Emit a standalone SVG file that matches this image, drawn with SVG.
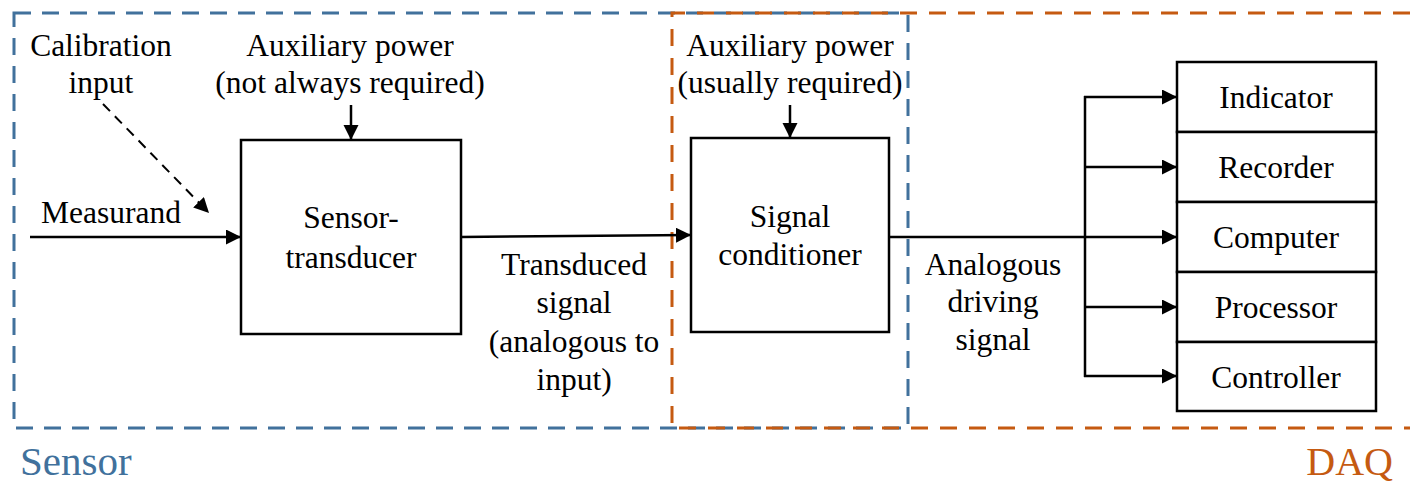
<svg xmlns="http://www.w3.org/2000/svg" width="1410" height="483" viewBox="0 0 1410 483">
<style>
text{font-family:"Liberation Serif","Times New Roman",serif;font-size:31.5px;fill:#000;text-anchor:middle}
.box{fill:#fff;stroke:#000;stroke-width:2.5}
.ln{fill:none;stroke:#000;stroke-width:2.5}
.dash{fill:none;stroke:#000;stroke-width:2;stroke-dasharray:10 7}
.sensor{fill:none;stroke:#41719C;stroke-width:3;stroke-dasharray:17 11}
.daq{fill:none;stroke:#C55A11;stroke-width:3;stroke-dasharray:17 12}
</style>
<defs>
<marker id="ah" markerUnits="userSpaceOnUse" markerWidth="16" markerHeight="16" refX="15" refY="7.5" orient="auto">
<path d="M0,0 L15,7.5 L0,15 z" fill="#000"/>
</marker>
</defs>
<rect width="1410" height="483" fill="#fff"/>
<g font-family="Liberation Serif, Times New Roman, serif">
<g id="sensor-region">
<rect class="sensor" x="14" y="13" width="894" height="415"/>
<text x="20" y="475" style="font-size:41px;fill:#41719C;text-anchor:start">Sensor</text>
</g>
<g id="daq-region">
<path class="daq" d="M1410,13 H672 V428 H1410"/>
<text x="1393" y="475" style="font-size:40px;fill:#C55A11;text-anchor:end">DAQ</text>
</g>
<g id="connectors">
<line class="ln" x1="30" y1="237" x2="241" y2="237" marker-end="url(#ah)"/>
<line class="dash" x1="103" y1="104" x2="209" y2="213" marker-end="url(#ah)"/>
<line class="ln" x1="351" y1="105" x2="351" y2="140" marker-end="url(#ah)"/>
<line class="ln" x1="461" y1="237" x2="691" y2="235" marker-end="url(#ah)"/>
<line class="ln" x1="790" y1="105" x2="790" y2="138" marker-end="url(#ah)"/>
<line class="ln" x1="889" y1="237" x2="1177" y2="237" marker-end="url(#ah)"/>
<line class="ln" x1="1085" y1="96" x2="1085" y2="377"/>
<line class="ln" x1="1084" y1="97" x2="1177" y2="97" marker-end="url(#ah)"/>
<line class="ln" x1="1084" y1="167" x2="1177" y2="167" marker-end="url(#ah)"/>
<line class="ln" x1="1084" y1="307" x2="1177" y2="307" marker-end="url(#ah)"/>
<line class="ln" x1="1084" y1="376" x2="1177" y2="376" marker-end="url(#ah)"/>
</g>
<g id="calibration-input">
<text x="101" y="56">Calibration</text>
<text x="101" y="93">input</text>
</g>
<g id="measurand">
<text x="111" y="223">Measurand</text>
</g>
<g id="aux-power-sensor">
<text x="350" y="56">Auxiliary power</text>
<text x="350" y="93">(not always required)</text>
</g>
<g id="sensor-transducer">
<rect class="box" x="241" y="140" width="220" height="194"/>
<text x="351" y="228">Sensor-</text>
<text x="351" y="268">transducer</text>
</g>
<g id="transduced-signal">
<text x="574" y="275">Transduced</text>
<text x="574" y="313">signal</text>
<text x="574" y="352">(analogous to</text>
<text x="574" y="390">input)</text>
</g>
<g id="aux-power-conditioner">
<text x="790" y="56">Auxiliary power</text>
<text x="790" y="93">(usually required)</text>
</g>
<g id="signal-conditioner">
<rect class="box" x="691" y="138" width="198" height="194"/>
<text x="790" y="227">Signal</text>
<text x="790" y="265">conditioner</text>
</g>
<g id="analogous-driving-signal">
<text x="993" y="275">Analogous</text>
<text x="993" y="312">driving</text>
<text x="993" y="350">signal</text>
</g>
<g id="indicator">
<rect class="box" x="1177" y="62" width="199" height="70"/>
<text x="1276" y="108">Indicator</text>
</g>
<g id="recorder">
<rect class="box" x="1177" y="132" width="199" height="70"/>
<text x="1276" y="178">Recorder</text>
</g>
<g id="computer">
<rect class="box" x="1177" y="202" width="199" height="70"/>
<text x="1276" y="248">Computer</text>
</g>
<g id="processor">
<rect class="box" x="1177" y="272" width="199" height="70"/>
<text x="1276" y="318">Processor</text>
</g>
<g id="controller">
<rect class="box" x="1177" y="342" width="199" height="69"/>
<text x="1276" y="388">Controller</text>
</g>
</g>
</svg>
